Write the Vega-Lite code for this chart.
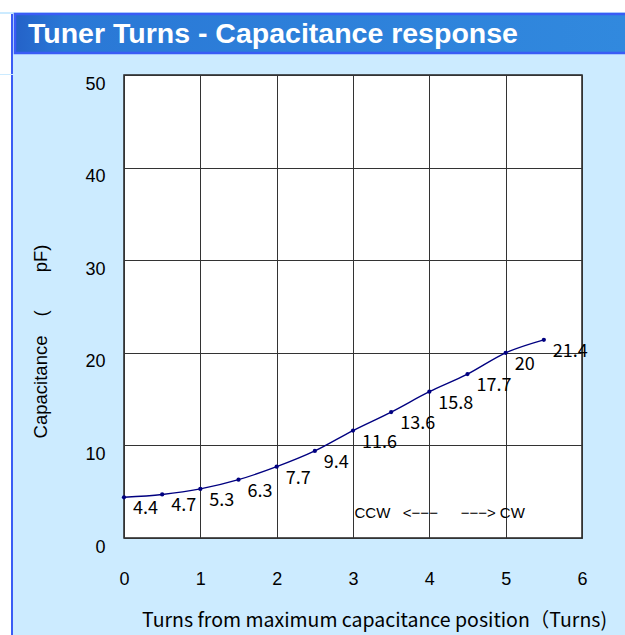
{
  "$schema": "https://vega.github.io/schema/vega-lite/v6.json",
  "background": "#CCEBFF",
  "padding": 0,
  "spacing": 0,
  "config": {
    "view": {"stroke": null},
    "concat": {"spacing": 0}
  },
  "vconcat": [
    {
      "width": 625, "height": 12,
      "data": {"values": [{}]},
      "mark": {"type": "rect", "color": "white", "strokeWidth": 0},
      "encoding": {}
    },
    {
      "spacing": 0,
      "hconcat": [
        {
          "width": 11, "height": 60,
          "data": {"values": [{}]},
          "mark": {"type": "rect", "color": "white", "strokeWidth": 0},
          "encoding": {}
        },
        {
          "width": 2, "height": 60,
          "data": {"values": [{}]},
          "mark": {"type": "rect", "color": "#3a5cf5", "strokeWidth": 0},
          "encoding": {}
        },
        {
          "width": 612, "height": 60,
          "data": {"values": [{"pos": 0, "top": 0, "bottom": 39, "mid": 19, "heading": "Tuner Turns - Capacitance response"}]},
          "encoding": {
            "x": {"field": "pos", "type": "quantitative", "scale": {"domain": [0, 1]}, "axis": null}
          },
          "layer": [
            {
              "mark": {
                "type": "rect",
                "color": {"gradient": "linear", "x1": 0, "y1": 0, "x2": 1, "y2": 0, "stops": [{"offset": 0, "color": "#2462c8"}, {"offset": 0.08, "color": "#2a78d6"}, {"offset": 1, "color": "#3189de"}]},
                "stroke": "#3a5cf5", "strokeWidth": 2.5
              },
              "encoding": {
                "x": null,
                "y": {"field": "top", "type": "quantitative", "scale": {"domain": [0, 60], "reverse": true, "nice": false, "zero": false}, "axis": null},
                "y2": {"field": "bottom"}
              }
            },
            {
              "mark": {"type": "text", "align": "left", "baseline": "middle", "dx": 13, "dy": 1, "fontSize": 28.5, "fontWeight": "bold", "font": "Liberation Sans", "color": "white"},
              "encoding": {
                "y": {"field": "mid", "type": "quantitative"},
                "text": {"field": "heading", "type": "nominal"}
              }
            }
          ]
        }
      ]
    },
    {
      "spacing": 17,
      "hconcat": [
        {
          "spacing": 0,
          "hconcat": [
            {
              "width": 11, "height": 562,
              "data": {"values": [{}]},
              "mark": {"type": "rect", "color": "white", "strokeWidth": 0},
              "encoding": {}
            },
            {
              "width": 2, "height": 562,
              "data": {"values": [{}]},
              "mark": {"type": "rect", "color": "#3a5cf5", "strokeWidth": 0},
              "encoding": {}
            }
          ]
        },
        {
          "width": 458, "height": 463,
          "view": {"fill": "white", "stroke": "#222222", "strokeWidth": 1.5},
          "data": {"values": [
            {"turns": 0, "cap": 4.4},
            {"turns": 0.5, "cap": 4.7},
            {"turns": 1, "cap": 5.3},
            {"turns": 1.5, "cap": 6.3},
            {"turns": 2, "cap": 7.7},
            {"turns": 2.5, "cap": 9.4},
            {"turns": 3, "cap": 11.6},
            {"turns": 3.5, "cap": 13.6},
            {"turns": 4, "cap": 15.8},
            {"turns": 4.5, "cap": 17.7},
            {"turns": 5, "cap": 20},
            {"turns": 5.5, "cap": 21.4}
          ]},
          "encoding": {
            "x": {
              "field": "turns", "type": "quantitative",
              "scale": {"domain": [0, 6], "nice": false, "zero": false},
              "axis": {
                "values": [0, 1, 2, 3, 4, 5, 6],
                "grid": true, "gridColor": "#333333", "gridWidth": 1, "gridOpacity": 1,
                "domain": false, "ticks": false,
                "labelPadding": 32, "labelFontSize": 18, "labelFont": "Liberation Sans", "labelColor": "black", "labelFlush": false,
                "title": "Turns from maximum capacitance position（Turns)",
                "titleFont": "Noto Sans CJK JP", "titleFontSize": 19.5, "titleFontWeight": "normal", "titleColor": "black",
                "titleX": 250, "titleY": 82, "titleBaseline": "middle", "titleAlign": "center"
              }
            },
            "y": {
              "field": "cap", "type": "quantitative",
              "scale": {"domain": [0, 50], "nice": false},
              "axis": {
                "values": [0, 10, 20, 30, 40, 50],
                "grid": true, "gridColor": "#333333", "gridWidth": 1, "gridOpacity": 1,
                "domain": false, "ticks": false,
                "labelPadding": 19, "labelOffset": 9, "labelFontSize": 18, "labelFont": "Liberation Sans", "labelColor": "black", "labelFlush": false,
                "title": "Capacitance　(　　pF)",
                "titleFont": "Liberation Sans", "titleFontSize": 18.5, "titleFontWeight": "normal", "titleColor": "black",
                "titleX": -83.5, "titleY": 266, "titleBaseline": "middle", "titleAlign": "center", "titleAngle": 270
              }
            }
          },
          "layer": [
            {"mark": {"type": "line", "color": "#000080", "strokeWidth": 1.4, "interpolate": "monotone"}},
            {"mark": {"type": "point", "filled": true, "color": "#000080", "size": 18, "opacity": 1}},
            {
              "mark": {"type": "text", "align": "left", "baseline": "middle", "dx": 9, "dy": 12, "fontSize": 18, "font": "Noto Sans CJK JP", "color": "black"},
              "encoding": {"text": {"field": "cap", "type": "quantitative"}}
            },
            {
              "data": {"values": [
                {"turns": 3.02, "cap": 2.7, "note": "CCW\u00a0\u00a0\u00a0<\u2212\u2212\u2212"},
                {"turns": 4.41, "cap": 2.7, "note": "\u2212\u2212\u2212> CW"}
              ]},
              "mark": {"type": "text", "align": "left", "baseline": "middle", "fontSize": 15, "font": "Liberation Sans", "color": "black"},
              "encoding": {"text": {"field": "note", "type": "nominal"}}
            }
          ]
        }
      ]
    }
  ]
}
